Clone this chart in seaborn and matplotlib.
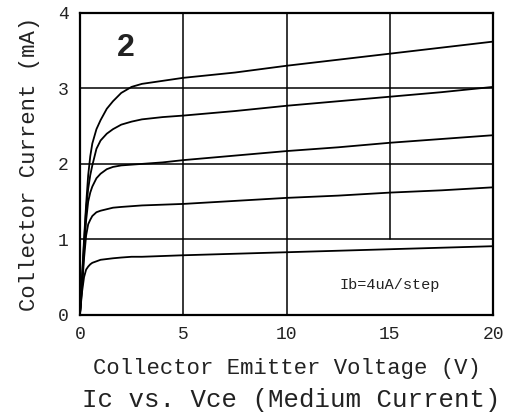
import pandas as pd
import seaborn as sns
import matplotlib
matplotlib.use("Agg")
import matplotlib.pyplot as plt

# Collector-emitter voltage sample points (V)
vce = [0, 0.1, 0.2, 0.3, 0.4, 0.5, 0.6, 0.8, 1.0, 1.3, 1.6, 2.0, 2.5, 3.0,
       4.0, 5, 7.5, 10, 12.5, 15, 17.5, 20]

# Collector current (mA) for each base-current step
ic_step1 = [0, 0.30, 0.50, 0.60, 0.64, 0.67, 0.69, 0.71, 0.73, 0.74, 0.75,
            0.76, 0.77, 0.77, 0.78, 0.79, 0.81, 0.83, 0.85, 0.87, 0.89, 0.91]
ic_step2 = [0, 0.35, 0.75, 1.05, 1.20, 1.26, 1.31, 1.36, 1.38, 1.40, 1.42,
            1.43, 1.44, 1.45, 1.46, 1.47, 1.51, 1.55, 1.58, 1.62, 1.65, 1.69]
ic_step3 = [0, 0.40, 0.85, 1.25, 1.50, 1.62, 1.70, 1.81, 1.87, 1.93, 1.96,
            1.98, 1.99, 2.00, 2.02, 2.05, 2.11, 2.17, 2.22, 2.28, 2.33, 2.38]
ic_step4 = [0, 0.45, 0.95, 1.40, 1.67, 1.85, 1.98, 2.20, 2.31, 2.40, 2.46,
            2.52, 2.56, 2.59, 2.62, 2.64, 2.70, 2.77, 2.83, 2.89, 2.95, 3.02]
ic_step5 = [0, 0.50, 1.00, 1.46, 1.85, 2.10, 2.27, 2.46, 2.58, 2.73, 2.83,
            2.94, 3.02, 3.06, 3.10, 3.14, 3.21, 3.30, 3.38, 3.46, 3.54, 3.62]

x_ticks = [0, 5, 10, 15, 20]
y_ticks = [0, 1, 2, 3, 4]

curves = [ic_step1, ic_step2, ic_step3, ic_step4, ic_step5]
frames = []
for i, ic in enumerate(curves):
    frames.append(pd.DataFrame({"Vce": vce, "Ic": ic, "step": i + 1}))
df = pd.concat(frames, ignore_index=True)

sns.set_theme(style="white")
mono = "Liberation Mono"

fig = plt.figure(figsize=(5.09, 4.16), dpi=100)
ax = fig.add_axes([0.157, 0.243, 0.812, 0.726])

sns.lineplot(data=df, x="Vce", y="Ic", hue="step", palette=["black"] * 5,
             legend=False, linewidth=1.3, ax=ax, estimator=None, sort=False)

# grid, the 15 V line stops at 1 mA (label box below it)
for v in [5, 10]:
    ax.axvline(v, color="black", lw=1.1, zorder=0)
ax.axvline(15, ymin=0.25, color="black", lw=1.1, zorder=0)
for c in [1, 2, 3]:
    ax.axhline(c, color="black", lw=1.1, zorder=0)

ax.set_xlim(0, 20)
ax.set_ylim(0, 4)
ax.set_xticks(x_ticks)
ax.set_yticks(y_ticks)
ax.set_xticklabels([str(t) for t in x_ticks], family=mono, fontsize=13)
ax.set_yticklabels([str(t) for t in y_ticks], family=mono, fontsize=13)
ax.tick_params(length=0, pad=8, colors="#222222")
for s in ax.spines.values():
    s.set_color("black")
    s.set_linewidth(1.6)

ax.set_xlabel("Collector Emitter Voltage (V)", family=mono, fontsize=16,
              color="#222222", labelpad=11)
ax.set_ylabel("Collector Current (mA)", family=mono, fontsize=16,
              color="#222222", labelpad=13)

ax.text(2.2, 3.54, "2", family="Liberation Sans", fontsize=23,
        fontweight="bold", ha="center", va="center", color="#222222")
ax.text(15.0, 0.4, "Ib=4uA/step", family=mono, fontsize=11, ha="center",
        va="center", color="#222222")

fig.text(0.572, 0.038, "Ic vs. Vce (Medium Current)", family=mono,
         fontsize=18.5, ha="center", va="center", color="#222222")

fig.savefig("out.png", dpi=100)
